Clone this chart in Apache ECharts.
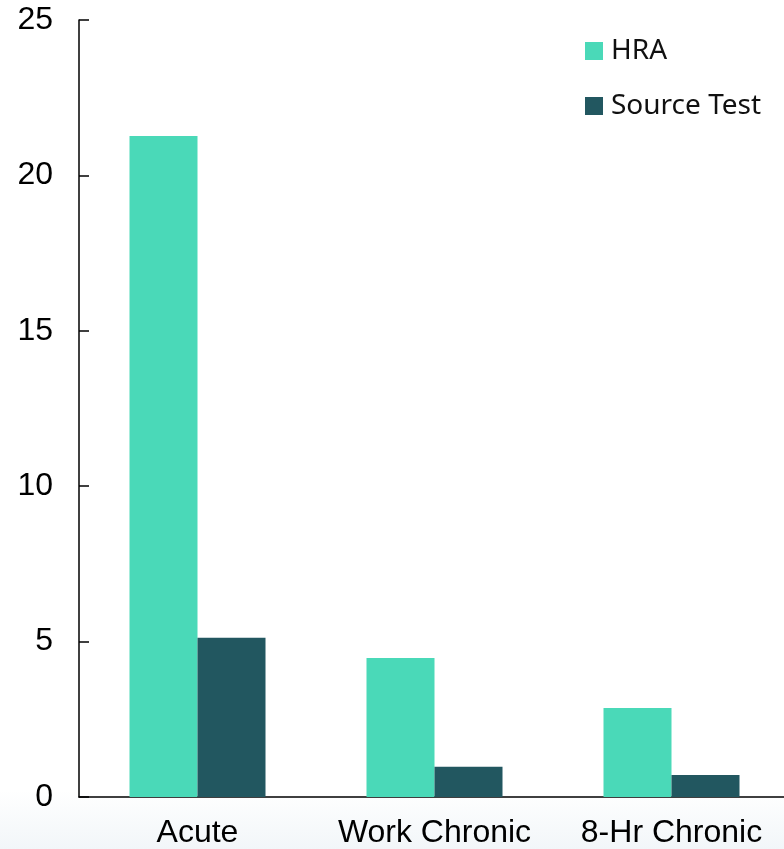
<!DOCTYPE html>
<html>
<head>
<meta charset="utf-8">
<script src="https://cdn.jsdelivr.net/npm/echarts@6/dist/echarts.min.js"></script>
<style>
  html, body { margin: 0; padding: 0; background: #fff; overflow: hidden; }
  #main { width: 790px; height: 849px; }
</style>
</head>
<body>
<div id="main"></div>
<script>
// data
var categories = ['Acute', 'Work Chronic', '8-Hr Chronic'];
var hraValues = [21.27, 4.47, 2.86];
var sourceTestValues = [5.12, 0.97, 0.71];
var yTicks = [0, 5, 10, 15, 20, 25];

var chart = echarts.init(document.getElementById('main'));

var option = {
    backgroundColor: '#ffffff',
    animation: false,
    graphic: [{
        type: 'rect',
        z: -10,
        shape: { x: 0, y: 790, width: 790, height: 59 },
        style: {
            fill: new echarts.graphic.LinearGradient(0, 0, 0, 1, [
                { offset: 0, color: '#ffffff' },
                { offset: 1, color: '#f2f6f9' }
            ])
        }
    }],
    legend: {
        orient: 'vertical',
        left: 585,
        top: 37,
        padding: 0,
        itemWidth: 18,
        itemHeight: 18,
        itemGap: 27,
        icon: 'rect',
        textStyle: {
            fontFamily: 'Noto Sans',
            fontSize: 28,
            color: '#111',
            padding: [0, 0, 0, 3]
        },
        data: ['HRA', 'Source Test']
    },
    grid: {
        left: 79,
        right: 0,
        top: 20,
        bottom: 52,
        containLabel: false
    },
    xAxis: {
        type: 'category',
        data: categories,
        axisLine: { show: true, lineStyle: { color: '#000', width: 1.5 } },
        axisTick: { show: false },
        axisLabel: {
            interval: 0,
            fontFamily: 'Liberation Sans',
            fontSize: 32,
            color: '#000',
            margin: 20
        }
    },
    yAxis: {
        type: 'value',
        min: yTicks[0],
        max: yTicks[yTicks.length - 1],
        interval: 5,
        axisLine: { show: true, lineStyle: { color: '#000', width: 1.5 } },
        axisTick: { show: true, inside: true, length: 10, lineStyle: { color: '#000', width: 1.5 } },
        splitLine: { show: false },
        axisLabel: {
            fontFamily: 'Liberation Sans',
            fontSize: 32,
            color: '#000',
            margin: 26
        }
    },
    series: [
        {
            name: 'HRA',
            type: 'bar',
            data: hraValues,
            barWidth: 68,
            barGap: '0%',
            itemStyle: { color: '#4ad9b8' }
        },
        {
            name: 'Source Test',
            type: 'bar',
            data: sourceTestValues,
            barWidth: 68,
            barGap: '0%',
            itemStyle: { color: '#225760' }
        }
    ]
};

chart.setOption(option);
</script>
</body>
</html>
